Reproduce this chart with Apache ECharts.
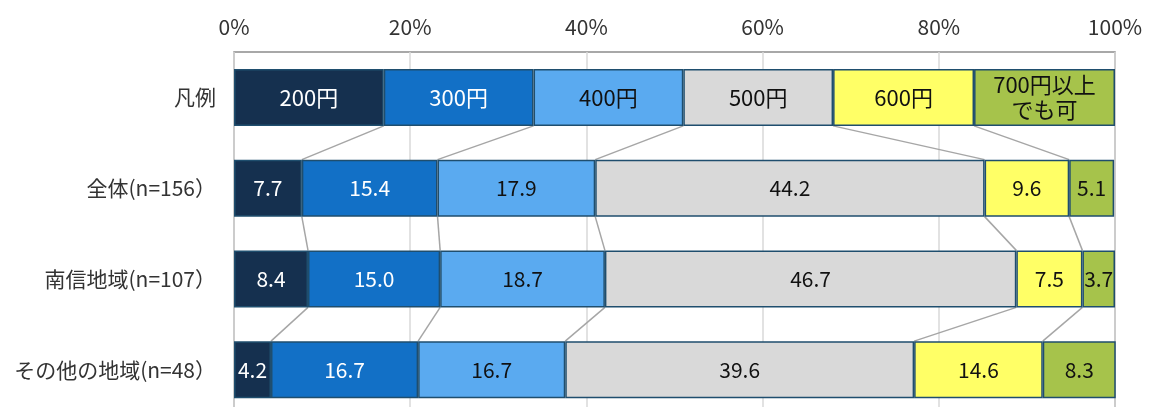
<!DOCTYPE html>
<html>
<head>
<meta charset="utf-8">
<script src="https://cdn.jsdelivr.net/npm/echarts@6/dist/echarts.min.js"></script>
<style>
  html, body { margin: 0; padding: 0; background: #fff; }
  #chart { width: 1150px; height: 407px; }
</style>
</head>
<body>
<div id="chart"></div>
<script>
// Rows from top to bottom
const categories = ['凡例', '全体(n=156）', '南信地域(n=107）', 'その他の地域(n=48）'];
// Price brackets (also used as legend-row labels)
const priceNames = ['200円', '300円', '400円', '500円', '600円', '700円以上\nでも可'];
// Legend row widths (%)
const legendShares = [17, 17, 17, 17, 16, 16];
// Survey results (%) per region
const allRegion   = [7.7, 15.4, 17.9, 44.2, 9.6, 5.1];
const nanshin     = [8.4, 15.0, 18.7, 46.7, 7.5, 3.7];
const otherRegion = [4.2, 16.7, 16.7, 39.6, 14.6, 8.3];
const axisTicks = [0, 20, 40, 60, 80, 100];

const rows = [legendShares, allRegion, nanshin, otherRegion];
const colors = ['#15304f', '#1270c6', '#5aaaf0', '#d9d9d9', '#ffff66', '#a6c34b'];
const labelColors = ['#ffffff', '#ffffff', '#111111', '#111111', '#111111', '#111111'];
const BAR_H = 57;
const FONT = '"Noto Sans CJK JP", "Noto Sans", sans-serif';

// Cumulative boundaries for each row
function cumulative(arr) {
  const out = [];
  let s = 0;
  for (const v of arr) { s += v; out.push(s); }
  return out;
}
const cums = rows.map(cumulative);

// Connector segments: boundary k between row r (bottom) and row r+1 (top)
const connectorData = [];
for (let r = 0; r < rows.length - 1; r++) {
  for (let k = 0; k < 5; k++) {
    connectorData.push([cums[r][k], r, cums[r + 1][k], r + 1]);
  }
}

const barSeries = priceNames.map((name, i) => ({
  name: name,
  type: 'bar',
  stack: 'total',
  barWidth: BAR_H,
  data: rows.map((row, r) => ({
    value: row[i],
    label: r === 0 ? { fontSize: 22, lineHeight: 25 } : {}
  })),
  itemStyle: { color: colors[i], borderColor: '#1f4e6e', borderWidth: 1.5 },
  label: {
    show: true,
    position: 'inside',
    color: labelColors[i],
    fontFamily: FONT,
    fontSize: 21,
    formatter: p => p.dataIndex === 0 ? name : p.value.toFixed(1)
  },
  z: 3
}));

const connectorSeries = {
  type: 'custom',
  data: connectorData,
  z: 2,
  silent: true,
  renderItem: function (params, api) {
    const a = api.coord([api.value(0), api.value(1)]);
    const b = api.coord([api.value(2), api.value(3)]);
    return {
      type: 'line',
      shape: { x1: a[0], y1: a[1] + BAR_H / 2, x2: b[0], y2: b[1] - BAR_H / 2 },
      style: { stroke: '#a6a6a6', lineWidth: 1.5 }
    };
  }
};

const chart = echarts.init(document.getElementById('chart'));
chart.setOption({
  animation: false,
  grid: {
    left: 234, top: 52, width: 881, height: 363,
    outerBoundsMode: 'none',
    show: true, borderColor: '#8c8c8c', borderWidth: 1.5, backgroundColor: 'transparent'
  },
  xAxis: {
    type: 'value',
    position: 'top',
    min: 0, max: 100, interval: 20,
    axisLine: { show: false },
    axisTick: { show: false },
    splitLine: { show: true, lineStyle: { color: '#d9d9d9', width: 1.5 } },
    axisLabel: {
      color: '#333333', fontFamily: FONT, fontSize: 21, margin: 14,
      formatter: v => axisTicks.includes(v) ? v + '%' : ''
    }
  },
  yAxis: {
    type: 'category',
    inverse: true,
    data: categories,
    axisLine: { show: false },
    axisTick: { show: false },
    axisLabel: { color: '#333333', fontFamily: FONT, fontSize: 21, margin: 18 }
  },
  series: [...barSeries, connectorSeries]
});
</script>
</body>
</html>
